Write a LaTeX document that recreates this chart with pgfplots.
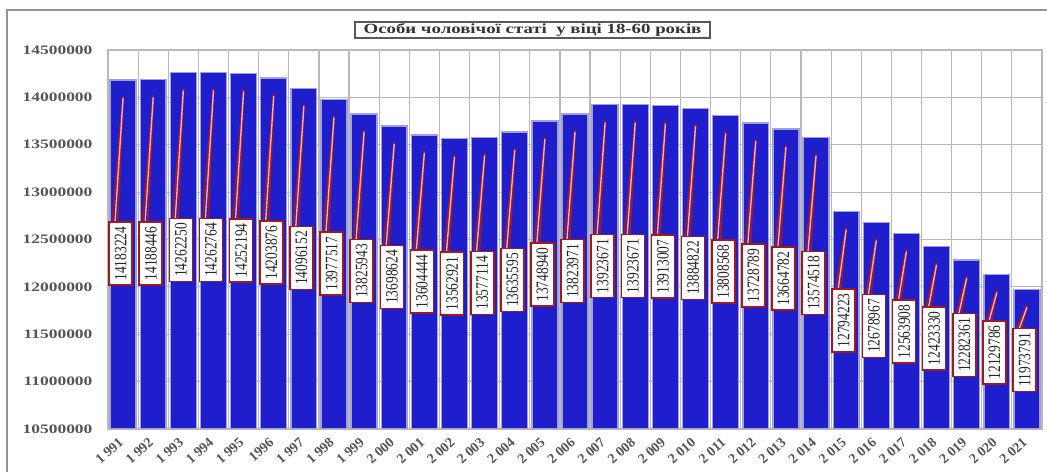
\documentclass[border=0pt]{standalone}
\usepackage{pgfplots}
\pgfplotsset{compat=1.18}
\usepackage{pgfplotstable}
\usepackage{fontspec}
\setmainfont{Liberation Serif}
\newfontfamily\widefont[FakeStretch=1.35]{Liberation Serif}

\definecolor{barblue}{RGB}{30,30,205}
\definecolor{baredge}{RGB}{160,160,225}
\definecolor{gridgray}{RGB}{185,185,185}
\definecolor{boxred}{RGB}{160,25,30}
\definecolor{wedgepink}{RGB}{240,175,190}
\definecolor{ticktext}{RGB}{85,85,85}

% population, men aged 18-60
\pgfplotstableread{
x year pop
0 1991 14183224
1 1992 14188446
2 1993 14262250
3 1994 14262764
4 1995 14252194
5 1996 14203876
6 1997 14096152
7 1998 13977517
8 1999 13825943
9 2000 13698624
10 2001 13604444
11 2002 13562921
12 2003 13577114
13 2004 13635595
14 2005 13748940
15 2006 13823971
16 2007 13923671
17 2008 13923671
18 2009 13913007
19 2010 13884822
20 2011 13808568
21 2012 13728789
22 2013 13664782
23 2014 13574518
24 2015 12794223
25 2016 12678967
26 2017 12563908
27 2018 12423330
28 2019 12282361
29 2020 12129786
30 2021 11973791
}\data

\begin{document}
\begin{tikzpicture}[x=1bp,y=1bp]
\useasboundingbox (0,0) rectangle (1047,472);
\draw[gray!85, line width=1.5bp] (7,-20) -- (7,462) -- (1070,462);
\begin{axis}[
    at={(108bp,43bp)}, anchor=south west,
    scale only axis, width=934bp, height=379bp,
    xmin=-0.5, xmax=30.5,
    ymin=10500000, ymax=14500000,
    xtick={0,...,30},
    xticklabels={1 991,1 992,1 993,1 994,1 995,1996,1 997,1 998,1 999,2 000,
        2 001,2 002,2 003,2 004,2 005,2 006,2 007,2 008,2 009,2 010,
        2 011,2 012,2 013,2 014,2 015,2 016,2 017,2 018,2 019,2 020,2 021},
    ytick={10500000,11000000,11500000,12000000,12500000,13000000,13500000,14000000,14500000},
    yticklabels={10500000,11000000,11500000,12000000,12500000,13000000,13500000,14000000,14500000},
    scaled y ticks=false,
    minor xtick={-0.5,0.5,1.5,2.5,3.5,4.5,5.5,6.5,7.5,8.5,9.5,10.5,11.5,12.5,13.5,14.5,
        15.5,16.5,17.5,18.5,19.5,20.5,21.5,22.5,23.5,24.5,25.5,26.5,27.5,28.5,29.5,30.5},
    xminorgrids=true, ymajorgrids=true,
    major grid style={gridgray, line width=1bp},
    minor grid style={gridgray, line width=1.2bp},
    axis line style={gridgray, line width=1.2bp},
    major tick length=0pt, minor tick length=0pt,
    yticklabel style={font=\widefont\bfseries\fontsize{13}{14}\selectfont,
        text=ticktext, anchor=east, xshift=-12bp},
    xticklabel style={font=\bfseries\fontsize{14}{15}\selectfont,
        text=ticktext, xshift=-5bp, yshift=-3bp, rotate=42, anchor=north east},
]
\addplot[ybar, bar width=0.86, bar shift=0pt, fill=barblue, draw=baredge, line width=1.4bp]
    table[x=x, y=pop] {\data};

% callout wedges
\addplot[quiver={u=0.36, v=\thisrow{pop}-170000-(0.507*(\thisrow{pop}-14183224)+12667500)},
    -, boxred, line width=1.9bp]
    table[x expr=\thisrow{x}-0.36, y expr=0.507*(\thisrow{pop}-14183224)+12667500] {\data};
\addplot[quiver={u=0.18, v=\thisrow{pop}-170000-(0.507*(\thisrow{pop}-14183224)+12667500)},
    -, boxred, line width=1.9bp]
    table[x expr=\thisrow{x}-0.18, y expr=0.507*(\thisrow{pop}-14183224)+12667500] {\data};
\addplot[quiver={u=0.27, v=\thisrow{pop}-190000-(0.507*(\thisrow{pop}-14183224)+12667500)},
    -, wedgepink, line width=1.4bp]
    table[x expr=\thisrow{x}-0.27, y expr=0.507*(\thisrow{pop}-14183224)+12667500] {\data};

% value boxes
\addplot[draw=none, mark=none, point meta=explicit symbolic,
    nodes near coords={\scalebox{1}[1.3]{\fontsize{13.5}{14}\selectfont\pgfplotspointmeta}},
    every node near coord/.append style={rotate=90, anchor=center, fill=white,
        draw=boxred, line width=1.6bp, inner sep=0pt, minimum width=63bp,
        minimum height=23bp, text=black!85}]
    table[x expr=\thisrow{x}-0.08, y expr=0.507*(\thisrow{pop}-14183224)+12350000, meta=pop] {\data};
\end{axis}
\node[draw=gray!70!black, line width=1.2bp, fill=white, minimum width=355bp,
    minimum height=16bp, inner sep=0pt, text=black!80,
    font=\widefont\bfseries\fontsize{14}{15}\selectfont]
    at (532.5,442) {Особи чоловічої статі~ у віці 18-60 років};
\end{tikzpicture}
\end{document}
